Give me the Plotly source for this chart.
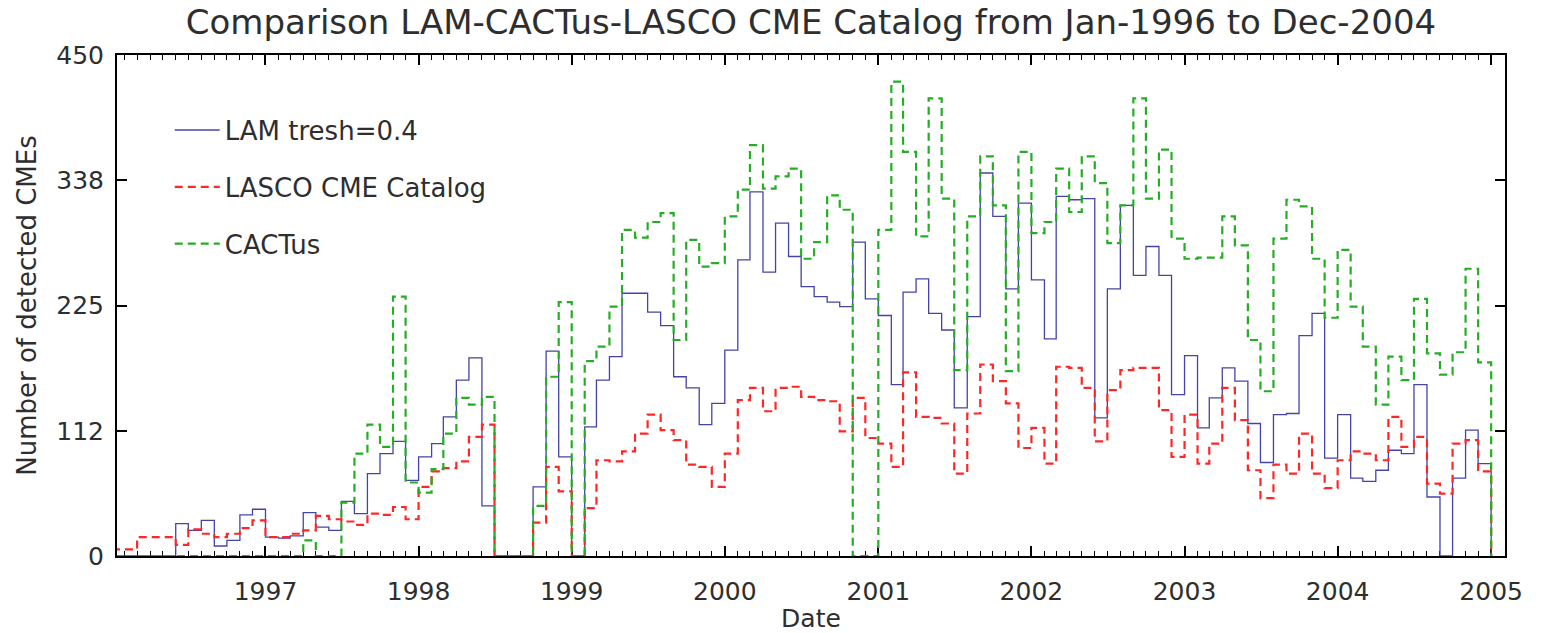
import pandas as pd
import plotly.graph_objects as go

# Monthly counts, Jan-1996 ... Dec-2004 (108 months)
months = list(pd.date_range("1996-01-01", periods=109, freq="MS"))  # last entry closes the final step

lam = [0, 0, 0, 0, 0, 29, 23, 32, 9, 14, 37, 42,
       17, 16, 18, 39, 26, 23, 49, 38, 74, 92, 103, 68,
       89, 101, 125, 158, 178, 45, 0, 0, 0, 62, 184, 89,
       0, 116, 158, 179, 236, 236, 219, 207, 161, 151, 118, 137,
       185, 266, 327, 255, 299, 269, 242, 233, 228, 224, 282, 231,
       216, 154, 237, 249, 218, 203, 133, 215, 344, 305, 240, 317,
       248, 195, 323, 320, 321, 124, 240, 315, 252, 278, 252, 145,
       180, 115, 142, 169, 157, 119, 84, 127, 128, 198, 218, 88,
       127, 70, 67, 77, 95, 92, 154, 53, 0, 70, 113, 83]

lasco = [6, 6, 17, 17, 17, 10, 24, 20, 17, 20, 25, 32,
         17, 17, 20, 23, 36, 33, 31, 28, 38, 37, 44, 33,
         62, 76, 79, 85, 107, 118, 0, 0, 0, 30, 80, 58,
         0, 43, 86, 85, 94, 110, 127, 113, 104, 82, 80, 62,
         92, 140, 151, 130, 151, 152, 143, 140, 139, 112, 142, 106,
         101, 80, 165, 125, 124, 119, 74, 128, 172, 157, 137, 97,
         115, 83, 170, 169, 151, 103, 149, 167, 169, 169, 131, 89,
         127, 83, 101, 151, 122, 77, 52, 82, 74, 110, 74, 61,
         86, 94, 92, 86, 125, 98, 107, 65, 56, 101, 104, 76]

cactus = [0, 0, 0, 0, 0, 0, 0, 0, 0, 0, 0, 0,
          0, 0, 0, 14, 0, 0, 48, 92, 118, 98, 233, 66,
          57, 78, 110, 142, 136, 143, 0, 0, 0, 45, 161, 228,
          0, 175, 188, 224, 293, 286, 300, 308, 194, 284, 260, 263,
          305, 329, 369, 330, 341, 348, 267, 282, 324, 311, 0, 0,
          293, 426, 363, 287, 411, 321, 167, 305, 359, 315, 166, 363,
          290, 300, 348, 309, 359, 335, 281, 315, 411, 321, 365, 285,
          267, 268, 268, 305, 279, 194, 148, 285, 320, 314, 267, 214,
          275, 224, 188, 136, 179, 158, 231, 182, 163, 183, 258, 174]

y_tickvals = [0, 112.5, 225, 337.5, 450]
y_ticktext = ["0", "112", "225", "338", "450"]

series = [
    ("LAM tresh=0.4", lam, "#4444a8", "solid", 1.3),
    ("LASCO CME Catalog", lasco, "#ff2626", "8px,5px", 2.2),
    ("CACTus", cactus, "#25ad25", "8px,5px", 2.2),
]

FONT = "DejaVu Sans"
TXT = "#2e2e2e"

fig = go.Figure()
for name, vals, color, dash, w in series:
    fig.add_trace(go.Scatter(
        x=months, y=list(vals) + [0], mode="lines", name=name, legendgroup=name,
        line=dict(shape="hv", color=color, dash=dash, width=w),
    ))

fig.update_layout(
    width=1543, height=633,
    margin=dict(l=117, r=38, t=55, b=77, autoexpand=False),
    paper_bgcolor="white", plot_bgcolor="white",
    font=dict(family=FONT, color=TXT, size=25),
    title=dict(text="Comparison LAM-CACTus-LASCO CME Catalog from Jan-1996 to Dec-2004",
               x=811 / 1543, xref="container", xanchor="center",
               y=1 - 22 / 633, yref="container", yanchor="middle",
               font=dict(family=FONT, size=34, color=TXT)),
    showlegend=True,
    legend=dict(x=0.038, y=0.897, xanchor="left", yanchor="top",
                bgcolor="rgba(0,0,0,0)", font=dict(family=FONT, size=26, color=TXT),
                tracegroupgap=20, itemwidth=45),
    xaxis=dict(
        type="date", range=["1996-01-13", "2005-02-03"],
        tick0="1997-01-01", dtick="M12", tickformat="%Y",
        ticks="inside", ticklen=10, tickwidth=1.5, tickcolor="black",
        minor=dict(dtick="M1", tick0="1996-01-01", ticks="inside", ticklen=5,
                   tickwidth=1.2, tickcolor="black", showgrid=False),
        showline=True, linewidth=2, linecolor="black", mirror="ticks",
        showgrid=False, zeroline=False, layer="below traces",
        tickfont=dict(family=FONT, size=25, color=TXT), ticklabelstandoff=12,
        title=dict(text="Date", font=dict(family=FONT, size=25, color=TXT), standoff=6),
    ),
    yaxis=dict(
        range=[0, 450], tickvals=y_tickvals, ticktext=y_ticktext,
        ticks="inside", ticklen=10, tickwidth=1.5, tickcolor="black",
        showline=True, linewidth=2, linecolor="black", mirror="ticks",
        showgrid=False, zeroline=False, layer="below traces",
        tickfont=dict(family=FONT, size=25, color=TXT), ticklabelstandoff=6,
        title=dict(text="Number of detected CMEs", font=dict(family=FONT, size=26, color=TXT), standoff=12),
    ),
)

fig.write_html("out.html")
